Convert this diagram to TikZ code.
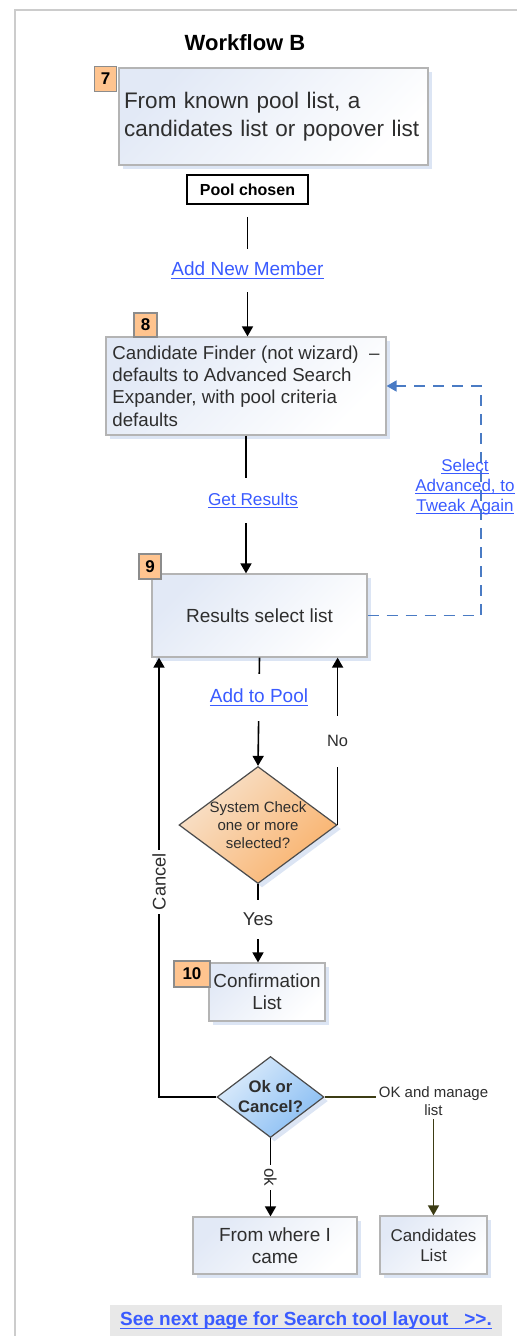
\documentclass[tikz,border=0pt]{standalone}
\usepackage{fontspec}
\setmainfont{Liberation Sans}
\usetikzlibrary{%
	calc,%
	arrows.meta,%
	shapes.geometric,%
	shadows
}

\definecolor{boxtop}{HTML}{E2E9F6}
\definecolor{boxline}{HTML}{B4B4B4}
\definecolor{boxshadow}{HTML}{DCE5F4}
\definecolor{badgefill}{HTML}{FFC48F}
\definecolor{linkblue}{HTML}{3A5BFF}
\definecolor{dashblue}{HTML}{4A7BC4}
\definecolor{olivedark}{HTML}{3C3C14}
\definecolor{peachtop}{HTML}{F8E2CC}
\definecolor{peachbot}{HTML}{F9B26C}
\definecolor{skytop}{HTML}{DDECFB}
\definecolor{skybot}{HTML}{88BDF3}
\definecolor{textgray}{HTML}{2E2E2E}
\definecolor{framegray}{HTML}{CCCCCC}
\definecolor{bargray}{HTML}{E8E8E8}

\newsavebox{\linkbox}
\newcommand{\linkul}[1]{\sbox{\linkbox}{#1}\rlap{\rule[-0.17em]{\wd\linkbox}{0.07em}}\usebox{\linkbox}}
\newcommand{\fsz}[2]{\fontsize{#1}{#2}\selectfont}

\begin{document}
\begin{tikzpicture}[x=1pt, y=-1pt,
		stepbox/.style={draw=boxline, line width=1.2pt, top color=boxtop, bottom color=white, shading angle=45,
			general shadow={fill=boxshadow, shadow xshift=4pt, shadow yshift=-4pt}, text=textgray, inner sep=0pt},
		badge/.style={draw=black!45, line width=1.2pt, fill=badgefill, font=\fsz{17}{20}\bfseries, inner sep=0pt},
		check/.style={diamond, draw=black!70, line width=1.2pt, inner sep=0pt,
			general shadow={fill=boxshadow, shadow xshift=4pt, shadow yshift=-4pt}},
		link/.style={text=linkblue, fill=white, font=\fsz{19}{22}},
		flowtext/.style={text=textgray, fill=white},
		flow/.style={line width=1.6pt, -{Triangle[width=11pt, length=10pt]}}
	]
			% Draw the page frame
			\useasboundingbox (0,0) rectangle (517,1336);
			\draw[framegray, line width=2pt] (15,1336) -- (15,10) -- (517,10);
			
			% Draw the title and the first step
			\node[font=\fsz{22}{26}\bfseries] (title) at (245,43) {Workflow B};
			\node[stepbox, minimum width=309pt, minimum height=97pt, text width=299pt, align=left, font=\fsz{22.5}{28}]
				(known) at (273.5,116.5) {From known pool list, a\\candidates list or popover list};
			\node[draw=black, line width=1.5pt, fill=white, font=\fsz{16}{19}\bfseries, minimum width=121pt, minimum height=29pt, inner sep=0pt]
				(pool) at (247.5,189.5) {Pool chosen};
			
			% Draw the finder and the results
			\node[stepbox, minimum width=280pt, minimum height=98pt, align=left, font=\fsz{18.7}{22.3}]
				(finder) at (246,386) {Candidate Finder (not wizard)\ \ --\\defaults to Advanced Search\\Expander, with pool criteria\\defaults};
			\node[stepbox, minimum width=215pt, minimum height=83pt, font=\fsz{19}{22}]
				(results) at (259.5,615.5) {Results select list};
			
			% Draw the two checks
			\node[check, top color=peachtop, bottom color=peachbot, shading angle=45, minimum width=158pt, minimum height=117pt,
				label={[font=\fsz{15}{18}, text=textgray, align=center]center:{System Check\\one or more\\selected?}}]
				(syscheck) at (258,825) {};
			\node[stepbox, minimum width=116pt, minimum height=58pt, align=center, font=\fsz{18.9}{22}]
				(confirm) at (267,992) {Confirmation\\List};
			\node[check, top color=skytop, bottom color=skybot, shading angle=45, minimum width=107pt, minimum height=81pt,
				label={[font=\fsz{16.7}{20}\bfseries, text=textgray, align=center]center:{Ok or\\Cancel?}}]
				(okcancel) at (270.5,1097) {};
			
			% Draw the end boxes
			\node[stepbox, minimum width=164pt, minimum height=57pt, align=center, font=\fsz{19}{22}]
				(back) at (275,1245.5) {From where I\\came};
			\node[stepbox, minimum width=107pt, minimum height=58pt, align=center, font=\fsz{17}{20}]
				(cands) at (433.5,1245) {Candidates\\List};
			
			% Draw the step numbers
			\node[badge, minimum width=22pt, minimum height=25pt] (num7) at (105.5,79) {7};
			\node[badge, minimum width=23pt, minimum height=24pt] (num8) at (145.5,325) {8};
			\node[badge, minimum width=22pt, minimum height=25pt] (num9) at (150,566.5) {9};
			\node[badge, minimum width=36pt, minimum height=26pt] (num10) at (192,974) {10};
			
			% Draw the connectors down the page
			\draw[flow, shorten <=12pt] (pool.south) -- node[link, inner ysep=13pt] {\linkul{Add New Member}} (pool.south |- finder.north);
			\draw[flow] (finder.south) -- node[link, font=\fsz{17.2}{20}, inner ysep=15pt, xshift=7pt, pos=0.47] {\linkul{Get Results}} (finder.south |- results.north);
			\draw[flow] (results.south) -- node[link, inner ysep=15pt, pos=0.37] {\linkul{Add to Pool}} (syscheck.north);
			\draw[flow] (syscheck.east) -- node[flowtext, font=\fsz{16.4}{19}, inner ysep=20pt] {No} (syscheck.east |- results.south);
			\draw[flow] (syscheck.south) -- node[flowtext, font=\fsz{18.6}{22}, inner ysep=13pt, pos=0.45] {Yes} (syscheck.south |- confirm.north);
			
			% Draw the way back on cancel
			\coordinate (cancelcorner) at (159,1097);
			\draw[flow] (okcancel.west) -- (cancelcorner) -- node[flowtext, rotate=90, font=\fsz{18.3}{21}, pos=0.49] {Cancel} (cancelcorner |- results.south);
			
			% Draw the two ways out on ok
			\draw[flow] (okcancel.south) -- node[flowtext, rotate=-90, font=\fsz{17}{20}] {ok} (okcancel.south |- back.north);
			\draw[flow, olivedark] (okcancel.east) -| node[pos=0.5, flowtext, align=center, font=\fsz{15}{18}, yshift=-4pt] {OK and manage\\list} (cands.north);
			
			% Draw the dashed way back to the finder
			\coordinate (tweakcorner) at (481,386);
			\draw[dashblue, line width=1.7pt, dash pattern=on 11pt off 8pt, -{Triangle[width=11pt, length=10pt]}]
				(results.east) -| (tweakcorner) -- (finder.east);
			\node[text=linkblue, align=center, font=\fsz{17}{20}] (tweak) at (465,487) {\linkul{Select}\\\linkul{Advanced, to}\\\linkul{Tweak Again}};
			
			% Draw the note at the foot
			\node[fill=bargray, minimum width=392pt, minimum height=33pt, inner sep=0pt, text=linkblue, font=\fsz{19}{22}\bfseries]
				(nextpage) at (306,1321) {\linkul{See next page for Search tool layout \ \ >\kern0pt>.}};
		\end{tikzpicture}
\end{document}
